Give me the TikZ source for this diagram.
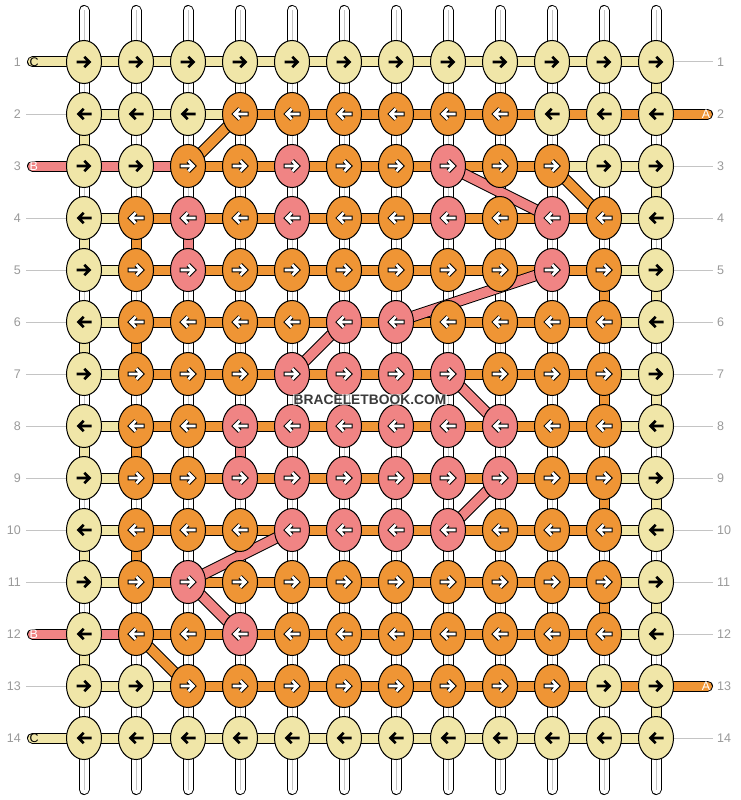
\documentclass[tikz,border=0pt]{standalone}
\usepackage{fontspec}
\setmainfont{Liberation Sans}
\usetikzlibrary{shapes.geometric}
\definecolor{cT}{HTML}{F0E6A8}
\definecolor{cO}{HTML}{EF9535}
\definecolor{cP}{HTML}{F08484}
\definecolor{lbl}{HTML}{9A9A9A}
\definecolor{gline}{HTML}{C4C4C4}
\definecolor{wmark}{HTML}{3A3A3A}
\tikzset{
  knot/.style={ellipse, draw=black, line width=1pt, minimum width=35pt, minimum height=43pt, inner sep=0pt},
  lblst/.style={font=\fontsize{12.5}{12.5}\selectfont, text=lbl, inner sep=0pt},
  endlbl/.style={font=\fontsize{12.5}{12.5}\selectfont, inner sep=0pt},
  pics/arrT/.style={code={
    \draw[line width=2.8pt, line join=miter] (-7.5,0)--(5,0) (0.3,-5.2)--(5.5,0)--(0.3,5.2);}},
  pics/arrW/.style={code={
    \draw[line width=4.6pt, line join=miter] (-8.5,0)--(5,0) (0.3,-5.2)--(5.5,0)--(0.3,5.2);
    \draw[white, line width=2.6pt, line join=miter] (-7.5,0)--(5,0) (0.3,-5.2)--(5.5,0)--(0.3,5.2);}},
  pics/arrO/.style={arrW},
  pics/arrP/.style={arrW},
}
\begin{document}
\begin{tikzpicture}[x=1pt,y=-1pt]
\useasboundingbox (0,0) rectangle (740,800);
\fill[white] (0,0) rectangle (740,800);
% grid coordinates
\foreach \r in {1,...,14}{\foreach \c in {1,...,12}{
  \coordinate (p-\r-\c) at ({84+52*(\c-1)},{62+52*(\r-1)});}}
% warp strings
\foreach \c in {1,...,12}{
  \coordinate (wt-\c) at ({84+52*(\c-1)},10.5);
  \coordinate (wb-\c) at ({84+52*(\c-1)},789.5);
  \draw[line width=11pt, line cap=round] (wt-\c) -- (wb-\c);
  \draw[white, line width=9pt, line cap=round] (wt-\c) -- (wb-\c);
  \draw[gline, line width=0.8pt] (wt-\c) -- (wb-\c);
}
% horizontal bands
\foreach \r/\l in {
  1/{T,T,T,T,T,T,T,T,T,T,T},
  2/{T,T,T,O,O,O,O,O,O,O,O},
  3/{P,P,O,O,O,O,O,O,O,T,T},
  4/{T,O,O,O,O,O,O,O,O,O,T},
  5/{T,O,O,O,O,O,O,O,O,O,T},
  6/{T,O,O,O,O,O,O,O,O,O,T},
  7/{T,O,O,O,O,O,O,O,O,O,T},
  8/{T,O,O,O,O,O,O,O,O,O,T},
  9/{T,O,O,O,O,O,O,O,O,O,T},
  10/{T,O,O,O,O,O,O,O,O,O,T},
  11/{T,O,O,O,O,O,O,O,O,O,T},
  12/{P,O,O,O,O,O,O,O,O,O,T},
  13/{T,T,O,O,O,O,O,O,O,O,O},
  14/{T,T,T,T,T,T,T,T,T,T,T}}{
  \foreach \k [count=\i] in \l {
    \pgfmathtruncatemacro\j{\i+1}
    \draw[line width=11pt] (p-\r-\i) -- (p-\r-\j);
    \draw[c\k, line width=9pt] (p-\r-\i) -- (p-\r-\j);
  }
}
% left string ends
\foreach \r/\k/\t/\tc in {1/T/C/black, 3/P/B/white, 12/P/B/white, 14/T/C/black}{
  \coordinate (le-\r) at (32.5,{62+52*(\r-1)});
  \draw[line width=11pt, line cap=round] (le-\r) -- (p-\r-1);
  \draw[c\k, line width=9pt, line cap=round] (le-\r) -- (p-\r-1);
  \node[endlbl, text=\tc, anchor=west] (lt-\r) at (29.5,{62.5+52*(\r-1)}) {\t};
}
% right string ends
\foreach \r in {2,13}{
  \coordinate (re-\r) at (707.5,{62+52*(\r-1)});
  \draw[line width=11pt, line cap=round] (p-\r-12) -- (re-\r);
  \draw[cO, line width=9pt, line cap=round] (p-\r-12) -- (re-\r);
  \node[endlbl, text=white, anchor=east] (rt-\r) at (710.5,{62.5+52*(\r-1)}) {A};
}
% coloured vertical segments
\foreach \g/\c/\k in {1/12/T, 2/1/T, 3/12/T, 4/1/T, 4/2/O, 4/3/P, 5/11/O, 5/12/T,
  6/1/T, 6/2/O, 7/11/O, 7/12/T, 8/1/T, 8/2/O, 8/4/P, 9/11/O, 9/12/T, 10/1/T, 10/2/O,
  11/11/O, 11/12/T, 12/1/T, 13/12/T}{
  \pgfmathtruncatemacro\h{\g+1}
  \draw[line width=11pt] (p-\g-\c) -- (p-\h-\c);
  \draw[c\k, line width=9pt] (p-\g-\c) -- (p-\h-\c);
}
% diagonals
\foreach \ra/\ca/\rb/\cb/\k in {3/3/2/4/O, 3/8/4/10/P, 3/10/4/11/O, 5/10/6/7/P, 6/6/7/5/P,
  7/8/8/9/P, 9/9/10/8/P, 10/5/11/3/P, 11/3/12/4/P, 12/2/13/3/O}{
  \draw[line width=11.5pt] (p-\ra-\ca) -- (p-\rb-\cb);
  \draw[c\k, line width=9.5pt] (p-\ra-\ca) -- (p-\rb-\cb);
}
% grey label lines
\foreach \r in {2,4,5,6,7,8,9,10,11,13}{
  \coordinate (ll-\r) at (26,{62+52*(\r-1)});
  \draw[gline, line width=1pt] (ll-\r) -- (p-\r-1);
}
\foreach \r in {1,3,4,5,6,7,8,9,10,11,12,14}{
  \coordinate (rl-\r) at (713,{62+52*(\r-1)});
  \draw[gline, line width=1pt] (p-\r-12) -- (rl-\r);
}
% knots
\foreach \r/\l in {
  1/{T,T,T,T,T,T,T,T,T,T,T,T},
  2/{T,T,T,O,O,O,O,O,O,T,T,T},
  3/{T,T,O,O,P,O,O,P,O,O,T,T},
  4/{T,O,P,O,P,O,O,P,O,P,O,T},
  5/{T,O,P,O,O,O,O,O,O,P,O,T},
  6/{T,O,O,O,O,P,P,O,O,O,O,T},
  7/{T,O,O,O,P,P,P,P,O,O,O,T},
  8/{T,O,O,P,P,P,P,P,P,O,O,T},
  9/{T,O,O,P,P,P,P,P,P,O,O,T},
  10/{T,O,O,O,P,P,P,P,O,O,O,T},
  11/{T,O,P,O,O,O,O,O,O,O,O,T},
  12/{T,O,O,P,O,O,O,O,O,O,O,T},
  13/{T,T,O,O,O,O,O,O,O,O,T,T},
  14/{T,T,T,T,T,T,T,T,T,T,T,T}}{
  \pgfmathtruncatemacro\dir{ifthenelse(mod(\r,2)==1,1,-1)}
  \foreach \k [count=\c] in \l {
    \node[knot, fill=c\k] (k-\r-\c) at (p-\r-\c) {};
    \pic[xscale=\dir] at (k-\r-\c) {arr\k};
  }
}
% row numbers
\foreach \r in {1,...,14}{
  \node[lblst, anchor=east] (nl-\r) at (21,{62.5+52*(\r-1)}) {\r};
  \node[lblst, anchor=west] (nr-\r) at (717,{62.5+52*(\r-1)}) {\r};
}
% watermark
\node[font=\bfseries\fontsize{13.8}{14}\selectfont, text=wmark, fill=white, fill opacity=0.65, text opacity=1, inner sep=1pt] (wm) at (370,399.5) {BRACELETBOOK.COM};
\end{tikzpicture}
\end{document}
